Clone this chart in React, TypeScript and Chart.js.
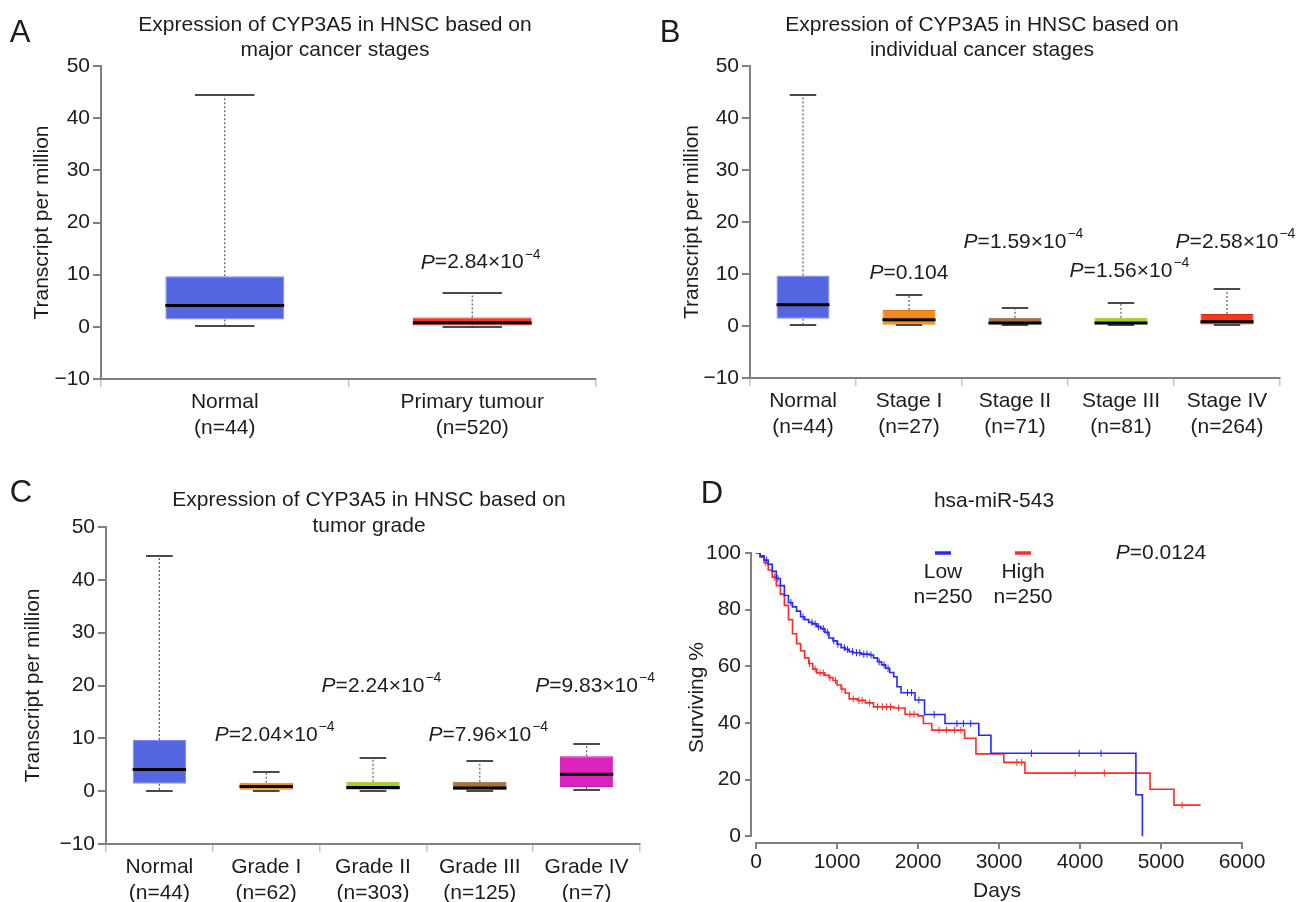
import React, { useEffect, useRef } from 'react';
import { Chart, registerables } from 'chart.js';

Chart.register(...registerables);

const FONT = '"Liberation Sans", Arial, Helvetica, sans-serif';
const INK = '#1c1c1c';
const AXIS = '#808080';

// ---------- shared box-plot axis ----------
const boxTicks = [-10, 0, 10, 20, 30, 40, 50];

// ---------- Panel A ----------
const groupsA = ['Normal', 'Primary tumour'];
const countsA = [44, 520];
const minA = [0.1, 0.0];
const q1A = [1.4, 0.25];
const medA = [4.1, 0.8];
const q3A = [9.7, 1.8];
const maxA = [44.5, 6.5];
const pGroupA = [1];
const pMantA = ['2.84'];
const pExpA = ['−4'];
const pLevelA = [12.3];

// ---------- Panel B ----------
const groupsB = ['Normal', 'Stage I', 'Stage II', 'Stage III', 'Stage IV'];
const countsB = [44, 27, 71, 81, 264];
const minB = [0.1, 0.1, 0.1, 0.1, 0.1];
const q1B = [1.4, 0.25, 0.3, 0.3, 0.3];
const medB = [4.1, 1.2, 0.6, 0.6, 0.8];
const q3B = [9.7, 3.1, 1.6, 1.6, 2.3];
const maxB = [44.5, 6.0, 3.5, 4.4, 7.1];
const pGroupB = [1, 2, 3, 4];
const pMantB = ['0.104', '1.59', '1.56', '2.58'];
const pExpB = ['', '−4', '−4', '−4'];
const pLevelB = [10.1, 16.2, 10.5, 16.2];

// ---------- Panel C ----------
const groupsC = ['Normal', 'Grade I', 'Grade II', 'Grade III', 'Grade IV'];
const countsC = [44, 62, 303, 125, 7];
const minC = [0.1, 0.0, 0.0, 0.0, 0.2];
const q1C = [1.4, 0.25, 0.25, 0.25, 0.8];
const medC = [4.1, 0.9, 0.7, 0.6, 3.2];
const q3C = [9.7, 1.6, 1.8, 1.8, 6.6];
const maxC = [44.5, 3.7, 6.3, 5.7, 8.9];
const pGroupC = [1, 2, 3, 4];
const pMantC = ['2.04', '2.24', '7.96', '9.83'];
const pExpC = ['−4', '−4', '−4', '−4'];
const pLevelC = [10.6, 19.8, 10.6, 19.8];

// ---------- Panel D (Kaplan-Meier) ----------
const kmTicksX = [0, 1000, 2000, 3000, 4000, 5000, 6000];
const kmTicksY = [0, 20, 40, 60, 80, 100];
const kmGroups = ['Low', 'High'];
const kmCounts = [250, 250];
const kmP = '0.0124';
const lowDays = [0, 50, 100, 150, 200, 250, 300, 350, 400, 450, 500, 550, 600, 650, 700, 750, 800, 850, 900, 950, 1000, 1050, 1100, 1150, 1200, 1300, 1400, 1450, 1500, 1550, 1600, 1650, 1700, 1740, 1790, 1963, 2080, 2333, 2750, 2900, 4690, 4770];
const lowSurv = [100, 99, 97.5, 96, 93.5, 91, 88.5, 85, 82.5, 81, 79.5, 77.5, 76.5, 75.5, 75, 74, 73.3, 72, 70, 69, 67.8, 66.6, 66, 65.2, 64.8, 64.3, 64, 63, 61.6, 60.5, 59.3, 57.8, 56.3, 52.8, 50.7, 48.1, 43, 39.8, 35.7, 29.3, 14.7, 0];
const highDays = [0, 50, 100, 150, 200, 250, 300, 350, 400, 450, 500, 550, 600, 650, 700, 750, 850, 900, 950, 1000, 1050, 1100, 1150, 1250, 1350, 1450, 1700, 1840, 2000, 2066, 2169, 2575, 2715, 3060, 3320, 4865, 5160, 5490];
const highSurv = [100, 98.5, 96.5, 94, 91.5, 88.5, 85.5, 81.5, 76.5, 71.5, 68, 65.5, 63, 61, 59, 57.7, 56.8, 56, 55, 53.4, 52, 50.6, 48.5, 48, 47.1, 45.7, 45.3, 43.1, 42.5, 39.8, 37.5, 34.6, 29.1, 26.1, 22.3, 16.6, 11, 11];
const lowCensor = [130, 270, 430, 580, 690, 730, 770, 830, 880, 960, 1010, 1090, 1130, 1190, 1240, 1280, 1330, 1370, 1420, 1520, 1580, 1630, 1870, 1920, 2010, 2200, 2480, 2560, 2650, 3400, 3990, 4260];
const highCensor = [120, 230, 660, 730, 790, 830, 910, 980, 1060, 1200, 1270, 1310, 1400, 1500, 1560, 1610, 1660, 1760, 1900, 1950, 2260, 2350, 2450, 2530, 3220, 3280, 3940, 4300, 5260];

function survivalAt(days: number[], surv: number[], t: number) {
  let v = surv[0];
  for (let i = 0; i < days.length; i++) if (days[i] <= t) v = surv[i];
  return v;
}

function drawP(ctx: CanvasRenderingContext2D, cx: number, cy: number, mant: string, exp: string) {
  const main = 21;
  const sup = 14;
  ctx.font = `italic ${main}px ${FONT}`;
  const wP = ctx.measureText('P').width;
  const rest = '=' + mant + (exp ? '×10' : '');
  ctx.font = `${main}px ${FONT}`;
  const wR = ctx.measureText(rest).width;
  let x = cx - (wP + wR) / 2;
  ctx.textAlign = 'left';
  ctx.textBaseline = 'middle';
  ctx.font = `italic ${main}px ${FONT}`;
  ctx.fillText('P', x, cy);
  x += wP;
  ctx.font = `${main}px ${FONT}`;
  ctx.fillText(rest, x, cy);
  x += wR;
  if (exp) {
    ctx.font = `${sup}px ${FONT}`;
    ctx.fillText(exp, x + 1, cy - 8);
  }
}

interface BoxProps {
  left: number; top: number; width: number; height: number;
  area: { left: number; right: number; top: number; bottom: number };
  letter: string; letterX: number; letterY: number;
  title: string[]; titleX: number; titleY: number[];
  yTitleX: number; barPct: number;
  groups: string[]; counts: number[];
  mins: number[]; q1s: number[]; meds: number[]; q3s: number[]; maxs: number[];
  colors: string[]; borders: string[];
  pGroup: number[]; pMant: string[]; pExp: string[]; pLevel: number[];
}

function BoxPanel(p: BoxProps) {
  const ref = useRef<HTMLCanvasElement>(null);
  useEffect(() => {
    const canvas = ref.current!;
    const whiskers = {
      id: 'whiskers',
      beforeDatasetsDraw(chart: any) {
        const { ctx } = chart;
        const y = chart.scales.y;
        const meta = chart.getDatasetMeta(0);
        ctx.save();
        ctx.strokeStyle = '#5a5a5a';
        ctx.lineWidth = 1.2;
        ctx.setLineDash([2, 2]);
        meta.data.forEach((bar: any, i: number) => {
          ctx.beginPath();
          ctx.moveTo(bar.x, y.getPixelForValue(p.q3s[i]));
          ctx.lineTo(bar.x, y.getPixelForValue(p.maxs[i]));
          ctx.moveTo(bar.x, y.getPixelForValue(p.q1s[i]));
          ctx.lineTo(bar.x, y.getPixelForValue(p.mins[i]));
          ctx.stroke();
        });
        ctx.restore();
      },
      afterDatasetsDraw(chart: any) {
        const { ctx } = chart;
        const y = chart.scales.y;
        const meta = chart.getDatasetMeta(0);
        ctx.save();
        meta.data.forEach((bar: any, i: number) => {
          const w = bar.width;
          ctx.strokeStyle = '#4a4a4a';
          ctx.lineWidth = 2;
          ctx.beginPath();
          const yt = Math.round(y.getPixelForValue(p.maxs[i]));
          const yb = Math.round(y.getPixelForValue(p.mins[i]));
          ctx.moveTo(bar.x - w / 4, yt); ctx.lineTo(bar.x + w / 4, yt);
          ctx.moveTo(bar.x - w / 4, yb); ctx.lineTo(bar.x + w / 4, yb);
          ctx.stroke();
          ctx.strokeStyle = '#000';
          ctx.lineWidth = 3;
          ctx.beginPath();
          const ym = y.getPixelForValue(p.meds[i]);
          ctx.moveTo(bar.x - w / 2, ym); ctx.lineTo(bar.x + w / 2, ym);
          ctx.stroke();
        });
        ctx.restore();
      },
      afterDraw(chart: any) {
        const { ctx } = chart;
        const x = chart.scales.x;
        const y = chart.scales.y;
        ctx.save();
        ctx.fillStyle = INK;
        ctx.textAlign = 'center';
        ctx.textBaseline = 'middle';
        ctx.font = `31px ${FONT}`;
        ctx.fillText(p.letter, p.letterX, p.letterY);
        ctx.font = `21px ${FONT}`;
        p.title.forEach((t, i) => ctx.fillText(t, p.titleX, p.titleY[i]));
        p.pGroup.forEach((g, i) => {
          drawP(ctx, x.getPixelForValue(g), y.getPixelForValue(p.pLevel[i]), p.pMant[i], p.pExp[i]);
        });
        ctx.restore();
      },
    };
    const chart = new Chart(canvas, {
      type: 'bar',
      data: {
        labels: p.groups.map((g, i) => [g, `(n=${p.counts[i]})`]),
        datasets: [
          {
            data: p.q1s.map((q, i) => [q, p.q3s[i]]) as any,
            backgroundColor: p.colors,
            borderColor: p.borders,
            borderWidth: 1,
            borderSkipped: false,
            barPercentage: p.barPct,
            categoryPercentage: 1,
          },
        ],
      },
      options: {
        responsive: false,
        animation: false,
        events: [],
        layout: { padding: { left: 0, top: p.area.top, right: p.width - p.area.right, bottom: 0 } },
        plugins: { legend: { display: false }, tooltip: { enabled: false }, title: { display: false } },
        scales: {
          x: {
            offset: true,
            grid: { offset: true, display: true, drawOnChartArea: false, drawTicks: true, tickLength: 8, color: '#c6c6c6', lineWidth: 1.5 },
            border: { display: true, color: AXIS, width: 2 },
            ticks: { color: INK, font: { family: FONT, size: 21, lineHeight: 1.2 }, padding: 3, maxRotation: 0, autoSkip: false },
            afterFit: (s: any) => { s.height = p.height - p.area.bottom; },
          },
          y: {
            min: boxTicks[0],
            max: boxTicks[boxTicks.length - 1],
            ticks: {
              color: INK,
              font: { family: FONT, size: 21 },
              padding: 3,
              autoSkip: false,
              callback: (v: any) => String(v).replace('-', '−'),
            },
            afterBuildTicks: (s: any) => { s.ticks = boxTicks.map((v) => ({ value: v })); },
            grid: { display: true, drawOnChartArea: false, drawTicks: true, tickLength: 8, color: AXIS, lineWidth: 2 },
            border: { display: true, color: AXIS, width: 2 },
            title: {
              display: true,
              text: 'Transcript per million',
              color: INK,
              font: { family: FONT, size: 21, lineHeight: 1.2 },
              padding: { top: p.yTitleX - 12.6, bottom: 0 },
            },
            afterFit: (s: any) => { s.width = p.area.left; },
          },
        },
      },
      plugins: [whiskers],
    } as any);
    return () => chart.destroy();
  }, []);
  return (
    <canvas
      ref={ref}
      width={p.width}
      height={p.height}
      style={{ position: 'absolute', left: p.left, top: p.top, width: p.width, height: p.height, display: 'block' }}
    />
  );
}

function KMPanel() {
  const ref = useRef<HTMLCanvasElement>(null);
  const W = 656;
  const H = 462;
  const area = { left: 102, right: 592, top: 113, bottom: 402 };
  const BLUE = '#2626ff';
  const RED = '#ff2a2a';
  useEffect(() => {
    const canvas = ref.current!;
    const deco = {
      id: 'kmDeco',
      afterDraw(chart: any) {
        const { ctx } = chart;
        const x = chart.scales.x;
        const y = chart.scales.y;
        ctx.save();
        ctx.strokeStyle = AXIS;
        ctx.lineWidth = 2;
        ctx.beginPath();
        ctx.moveTo(chart.chartArea.left - 1, y.getPixelForValue(kmTicksY[0]));
        ctx.lineTo(chart.chartArea.left - 1, y.getPixelForValue(kmTicksY[kmTicksY.length - 1]));
        ctx.moveTo(x.getPixelForValue(kmTicksX[0]), chart.chartArea.bottom + 1);
        ctx.lineTo(x.getPixelForValue(kmTicksX[kmTicksX.length - 1]), chart.chartArea.bottom + 1);
        ctx.stroke();
        ctx.fillStyle = INK;
        ctx.textAlign = 'center';
        ctx.textBaseline = 'middle';
        ctx.font = `31px ${FONT}`;
        ctx.fillText('D', 62, 54);
        ctx.font = `21px ${FONT}`;
        ctx.fillText('hsa-miR-543', 344, 61);
        const legendX = [293, 373];
        const legendCol = [BLUE, RED];
        const yTop = y.getPixelForValue(100);
        legendX.forEach((lx, i) => {
          ctx.strokeStyle = legendCol[i];
          ctx.lineWidth = 3.5;
          ctx.beginPath();
          ctx.moveTo(lx - 8, yTop);
          ctx.lineTo(lx + 8, yTop);
          ctx.stroke();
          ctx.fillStyle = INK;
          ctx.font = `21px ${FONT}`;
          ctx.textAlign = 'center';
          ctx.textBaseline = 'middle';
          ctx.fillText(kmGroups[i], lx, yTop + 19);
          ctx.fillText(`n=${kmCounts[i]}`, lx, yTop + 44);
        });
        drawP(ctx, 511, yTop, kmP, '');
        ctx.restore();
      },
    };
    const tickFont = { family: FONT, size: 21 };
    const chart = new Chart(canvas, {
      type: 'line',
      data: {
        datasets: [
          {
            label: kmGroups[0],
            data: lowDays.map((d, i) => ({ x: d, y: lowSurv[i] })),
            borderColor: BLUE,
            borderWidth: 1.6,
            stepped: true,
            pointRadius: 0,
            fill: false,
          },
          {
            label: kmGroups[1],
            data: highDays.map((d, i) => ({ x: d, y: highSurv[i] })),
            borderColor: RED,
            borderWidth: 1.6,
            stepped: true,
            pointRadius: 0,
            fill: false,
          },
          {
            data: lowCensor.map((t) => ({ x: t, y: survivalAt(lowDays, lowSurv, t) })),
            showLine: false,
            pointStyle: 'line',
            pointRotation: 90,
            pointRadius: 3.5,
            pointBorderWidth: 1,
            pointBorderColor: BLUE,
            borderColor: BLUE,
          },
          {
            data: highCensor.map((t) => ({ x: t, y: survivalAt(highDays, highSurv, t) })),
            showLine: false,
            pointStyle: 'line',
            pointRotation: 90,
            pointRadius: 3.5,
            pointBorderWidth: 1,
            pointBorderColor: RED,
            borderColor: RED,
          },
        ],
      },
      options: {
        responsive: false,
        animation: false,
        events: [],
        layout: { padding: { left: 0, top: area.top, right: W - area.right, bottom: 0 } },
        plugins: { legend: { display: false }, tooltip: { enabled: false } },
        scales: {
          x: {
            type: 'linear',
            min: -50,
            max: kmTicksX[kmTicksX.length - 1],
            afterBuildTicks: (s: any) => { s.ticks = kmTicksX.map((v) => ({ value: v })); },
            ticks: { autoSkip: false, color: INK, font: tickFont, padding: 1, maxRotation: 0, callback: (v: any) => String(v) },
            grid: { display: true, drawOnChartArea: false, drawTicks: true, tickLength: 7, color: AXIS, lineWidth: 2 },
            border: { display: false },
            title: { display: true, text: 'Days', color: INK, font: { family: FONT, size: 21, lineHeight: 1 }, padding: { top: 0, bottom: 0 } },
            afterFit: (s: any) => { s.height = H - area.bottom; },
          },
          y: {
            type: 'linear',
            min: -2,
            max: kmTicksY[kmTicksY.length - 1],
            afterBuildTicks: (s: any) => { s.ticks = kmTicksY.map((v) => ({ value: v })); },
            ticks: { autoSkip: false, color: INK, font: tickFont, padding: 4, callback: (v: any) => String(v) },
            grid: { display: true, drawOnChartArea: false, drawTicks: true, tickLength: 7, color: AXIS, lineWidth: 2 },
            border: { display: false },
            title: { display: true, text: 'Surviving %', color: INK, font: { family: FONT, size: 21, lineHeight: 1.2 }, padding: { top: 47 - 12.6, bottom: 0 } },
            afterFit: (s: any) => { s.width = area.left; },
          },
        },
      },
      plugins: [deco],
    } as any);
    return () => chart.destroy();
  }, []);
  return (
    <canvas
      ref={ref}
      width={W}
      height={H}
      style={{ position: 'absolute', left: 650, top: 440, width: W, height: H, display: 'block' }}
    />
  );
}

const titleTop = 'Expression of CYP3A5 in HNSC based on';

export default function App() {
  const normalFill = '#5567e0';
  const normalEdge = '#7d8aec';
  const orange = '#ee8a1e';
  const brown = '#a9723c';
  const lime = '#a6d21c';
  const red = '#f3381b';
  const magenta = '#dc22bd';
  return (
    <div style={{ position: 'absolute', left: 0, top: 0, width: 1306, height: 902, background: '#fff', overflow: 'hidden' }}>
      <KMPanel />
      <BoxPanel
        left={0} top={0} width={650} height={440}
        area={{ left: 101, right: 596, top: 66, bottom: 379 }}
        letter="A" letterX={20} letterY={33}
        title={[titleTop, 'major cancer stages']} titleX={335} titleY={[25, 50]}
        yTitleX={42} barPct={0.48}
        groups={groupsA} counts={countsA}
        mins={minA} q1s={q1A} meds={medA} q3s={q3A} maxs={maxA}
        colors={[normalFill, red]} borders={[normalEdge, '#d82a10']}
        pGroup={pGroupA} pMant={pMantA} pExp={pExpA} pLevel={pLevelA}
      />
      <BoxPanel
        left={650} top={0} width={656} height={440}
        area={{ left: 100, right: 630, top: 66, bottom: 378 }}
        letter="B" letterX={20} letterY={33}
        title={[titleTop, 'individual cancer stages']} titleX={332} titleY={[25, 50]}
        yTitleX={42} barPct={0.5}
        groups={groupsB} counts={countsB}
        mins={minB} q1s={q1B} meds={medB} q3s={q3B} maxs={maxB}
        colors={[normalFill, orange, brown, lime, red]}
        borders={[normalEdge, '#e07a10', '#966030', '#94c010', '#d82a10']}
        pGroup={pGroupB} pMant={pMantB} pExp={pExpB} pLevel={pLevelB}
      />
      <BoxPanel
        left={0} top={440} width={672} height={462}
        area={{ left: 106, right: 640, top: 87, bottom: 404 }}
        letter="C" letterX={21} letterY={53}
        title={[titleTop, 'tumor grade']} titleX={369} titleY={[60, 86]}
        yTitleX={33} barPct={0.5}
        groups={groupsC} counts={countsC}
        mins={minC} q1s={q1C} meds={medC} q3s={q3C} maxs={maxC}
        colors={[normalFill, orange, lime, brown, magenta]}
        borders={[normalEdge, '#e07a10', '#94c010', '#966030', '#c818a8']}
        pGroup={pGroupC} pMant={pMantC} pExp={pExpC} pLevel={pLevelC}
      />
    </div>
  );
}
